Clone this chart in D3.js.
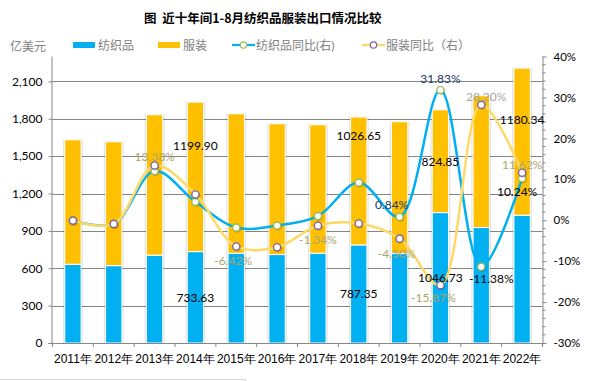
<!DOCTYPE html>
<html><head><meta charset="utf-8">
<script src="https://cdn.jsdelivr.net/npm/d3@7"></script>
<style>body{margin:0;background:#fff} svg{display:block;font-family:Lato,"Noto Sans CJK SC",sans-serif}</style>
</head><body><svg id="c" width="590" height="381"></svg>
<script>
// ---- data ----
const years = ["2011年","2012年","2013年","2014年","2015年","2016年","2017年","2018年","2019年","2020年","2021年","2022年"];
const textile = [632, 621, 705, 733.63, 721, 710, 721, 787.35, 718, 1046.73, 927, 1026];
const garment = [999, 994, 1127, 1199.90, 1119, 1050, 1031, 1026.65, 1058, 824.85, 1058, 1180.34];
const textileYoY = [-0.1, -0.9, 12.0, 4.5, -1.8, -1.3, 1.0, 9.2, 0.84, 31.83, -11.38, 10.24];
const garmentYoY = [-0.1, -0.9, 13.38, 6.3, -6.42, -6.6, -1.34, -0.8, -4.50, -15.87, 28.20, 11.62];
const leftTicks = [0, 300, 600, 900, 1200, 1500, 1800, 2100];
const rightTicks = [-30, -20, -10, 0, 10, 20, 30, 40];
const seriesNames = ["纺织品", "服装", "纺织品同比(右)", "服装同比（右）"];
const titleText = "图  近十年间1-8月纺织品服装出口情况比较";
const unitText = "亿美元";

// label display config (which values carry labels, and nudges)
const barLabels = [
  {s: "t", i: 3, dy: 0}, {s: "t", i: 7, dy: 0}, {s: "t", i: 9, dy: 0},
  {s: "g", i: 3, dy: -31}, {s: "g", i: 7, dy: -45}, {s: "g", i: 9, dy: 0}, {s: "g", i: 11, dy: -22}
];
const pctLabels = [
  {s: "t", i: 8, dx: -8, dy: -12, c: "#203864"},
  {s: "t", i: 9, dx: 0, dy: -11, c: "#203864"},
  {s: "t", i: 10, dx: 10, dy: 12, c: "#000"},
  {s: "t", i: 11, dx: -5, dy: 13, c: "#000"},
  {s: "g", i: 2, dx: 0, dy: -9, c: "#aba56c"},
  {s: "g", i: 4, dx: -3, dy: 14, c: "#aba56c"},
  {s: "g", i: 6, dx: 0, dy: 14, c: "#aba56c"},
  {s: "g", i: 8, dx: -3, dy: 15, c: "#aba56c"},
  {s: "g", i: 9, dx: -7, dy: 12, c: "#aba56c"},
  {s: "g", i: 10, dx: 5, dy: -8, c: "#a6a6a6"},
  {s: "g", i: 11, dx: 0, dy: -8, c: "#aba56c"}
];

// ---- layout ----
const L = 52.5, R = 542.5, T = 56.5, B = 343;
const svg = d3.select("#c");
const C = {blue: "#00b0f0", yellow: "#ffc000", lineY: "#ffd966", green: "#9bbb59", purple: "#8064a2", grid: "#868686", axis: "#868686", text: "#000", gray: "#808080"};

const x = d3.scaleBand().domain(years).range([L, R]).paddingInner(0.6).paddingOuter(0.3);
const xc = d => x(d) + x.bandwidth() / 2;
const yL = d3.scaleLinear().domain([0, 2300]).range([B, T]);
const yR = d3.scaleLinear().domain([-30, 40]).range([B, T]);

// title
svg.append("text").attr("x", 144).attr("y", 17).attr("dominant-baseline", "central")
  .attr("font-size", 12.5).attr("font-weight", "bold").attr("fill", "#000")
  .attr("font-family", '"Noto Sans CJK SC",sans-serif').attr("xml:space", "preserve").text(titleText);

// unit label
svg.append("text").attr("x", 10).attr("y", 46).attr("dominant-baseline", "central")
  .attr("font-size", 12).attr("fill", C.gray).text(unitText);

// legend
const lg = svg.append("g");
const legItems = [
  {type: "bar", color: C.blue, x: 73, tx: 98},
  {type: "bar", color: C.yellow, x: 158, tx: 183},
  {type: "line", color: C.blue, m: C.green, x: 232, tx: 256},
  {type: "line", color: C.lineY, m: C.purple, x: 362, tx: 386}
];
legItems.forEach((it, k) => {
  if (it.type === "bar") {
    lg.append("rect").attr("x", it.x).attr("y", 42).attr("width", 22).attr("height", 6).attr("fill", it.color);
  } else {
    lg.append("line").attr("x1", it.x).attr("x2", it.x + 23).attr("y1", 45).attr("y2", 45)
      .attr("stroke", it.color).attr("stroke-width", 2.25);
    lg.append("circle").attr("cx", it.x + 11.5).attr("cy", 45).attr("r", 3.2)
      .attr("fill", "#fff").attr("stroke", it.m).attr("stroke-width", 1.2);
  }
  lg.append("text").attr("x", it.tx).attr("y", 45).attr("dominant-baseline", "central")
    .attr("font-size", 12).attr("fill", C.gray).text(seriesNames[k]);
});

// gridlines
svg.append("g").selectAll("line").data(leftTicks.filter(d => d > 0)).join("line")
  .attr("x1", L).attr("x2", R).attr("y1", d => Math.round(yL(d)) + 0.5).attr("y2", d => Math.round(yL(d)) + 0.5)
  .attr("stroke", C.grid).attr("stroke-width", 1);

// left axis
const gl = svg.append("g").attr("transform", `translate(${L},0)`)
  .call(d3.axisLeft(yL).tickValues(leftTicks).tickFormat(d3.format(",")).tickSize(4).tickPadding(6));
gl.select(".domain").attr("stroke", C.axis).attr("d", `M-0.5,${T}V${B}`);
gl.selectAll(".tick line").attr("stroke", C.axis);
gl.selectAll(".tick text").attr("font-size", 12).attr("fill", "#000").attr("font-family", "Lato");

// right axis
const gr = svg.append("g").attr("transform", `translate(${R},0)`)
  .call(d3.axisRight(yR).tickValues(rightTicks).tickFormat(d => d + "%").tickSize(4).tickPadding(7));
gr.select(".domain").attr("stroke", C.axis).attr("d", `M0.5,${T}V${B}`);
gr.selectAll(".tick line").attr("stroke", C.axis);
gr.selectAll(".tick text").attr("font-size", 11.5).attr("fill", "#000").attr("font-family", "Lato");
gr.append("g").selectAll("line").data(d3.range(-30, 41, 2).filter(d => d % 10 !== 0)).join("line")
  .attr("x1", 0).attr("x2", 3).attr("y1", d => yR(d)).attr("y2", d => yR(d)).attr("stroke", C.axis);

// bars
const bars = svg.append("g");
years.forEach((yr, i) => {
  const bx = x(yr), bw = x.bandwidth();
  const t0 = yL(0), t1 = yL(textile[i]), g1 = yL(textile[i] + garment[i]);
  bars.append("rect").attr("x", bx - 1.8).attr("y", g1 - 0.5).attr("width", bw + 3.6).attr("height", t0 - g1 + 0.5)
    .attr("fill", "#000").attr("opacity", 0.1);
  bars.append("rect").attr("x", bx).attr("y", t1).attr("width", bw).attr("height", t0 - t1)
    .attr("fill", C.blue).attr("stroke", "#fff").attr("stroke-width", 1);
  bars.append("rect").attr("x", bx).attr("y", g1).attr("width", bw).attr("height", t1 - g1)
    .attr("fill", C.yellow).attr("stroke", "#fff").attr("stroke-width", 1);
});

// bottom axis
const gb = svg.append("g").attr("transform", `translate(0,${B})`)
  .call(d3.axisBottom(x).tickSize(0).tickPadding(11));
gb.select(".domain").remove();
gb.append("line").attr("x1", L - 4).attr("x2", R).attr("y1", 0.5).attr("y2", 0.5).attr("stroke", C.axis);
gb.selectAll(".tick text").attr("font-size", 12).attr("fill", "#000");
const step = x.step();
gb.append("g").selectAll("line").data(d3.range(years.length + 1)).join("line")
  .attr("x1", k => L + k * (R - L) / years.length).attr("x2", k => L + k * (R - L) / years.length)
  .attr("y1", 0).attr("y2", 4).attr("stroke", C.axis);

// lines
const line = d3.line().x((d, i) => xc(years[i])).y(d => yR(d)).curve(d3.curveCatmullRom.alpha(0.5));
function drawSeries(vals, color, mColor) {
  const g = svg.append("g");
  g.append("path").datum(vals).attr("d", line).attr("fill", "none").attr("stroke", color).attr("stroke-width", 2.5);
  g.selectAll("circle.sh").data(vals).join("circle").attr("cx", (d, i) => xc(years[i]) + 0.8).attr("cy", d => yR(d) + 1)
    .attr("r", 4.2).attr("fill", "#000").attr("opacity", 0.15);
  g.selectAll("circle.m").data(vals).join("circle").attr("cx", (d, i) => xc(years[i])).attr("cy", d => yR(d))
    .attr("r", 3.6).attr("fill", "#fff").attr("stroke", mColor).attr("stroke-width", 1.4);
}
drawSeries(textileYoY, C.blue, C.green);
drawSeries(garmentYoY, C.lineY, C.purple);

// bar labels
const lab = svg.append("g").attr("font-size", 12).attr("text-anchor", "middle").attr("dominant-baseline", "central");
barLabels.forEach(b => {
  const yr = years[b.i];
  let v, cy;
  if (b.s === "t") { v = textile[b.i]; cy = (yL(0) + yL(v)) / 2; }
  else { v = garment[b.i]; cy = (yL(textile[b.i]) + yL(textile[b.i] + v)) / 2; }
  lab.append("text").attr("x", xc(yr)).attr("y", cy + b.dy).attr("fill", "#000").text(v.toFixed(2));
});
pctLabels.forEach(p => {
  const v = p.s === "t" ? textileYoY[p.i] : garmentYoY[p.i];
  lab.append("text").attr("x", xc(years[p.i]) + p.dx).attr("y", yR(v) + p.dy).attr("fill", p.c).text(v.toFixed(2) + "%");
});

// bottom frame fragment
svg.append("path").attr("d", "M0,379.5H245.5V381").attr("fill", "none").attr("stroke", "#d9d9d9");
</script>
</body></html>
